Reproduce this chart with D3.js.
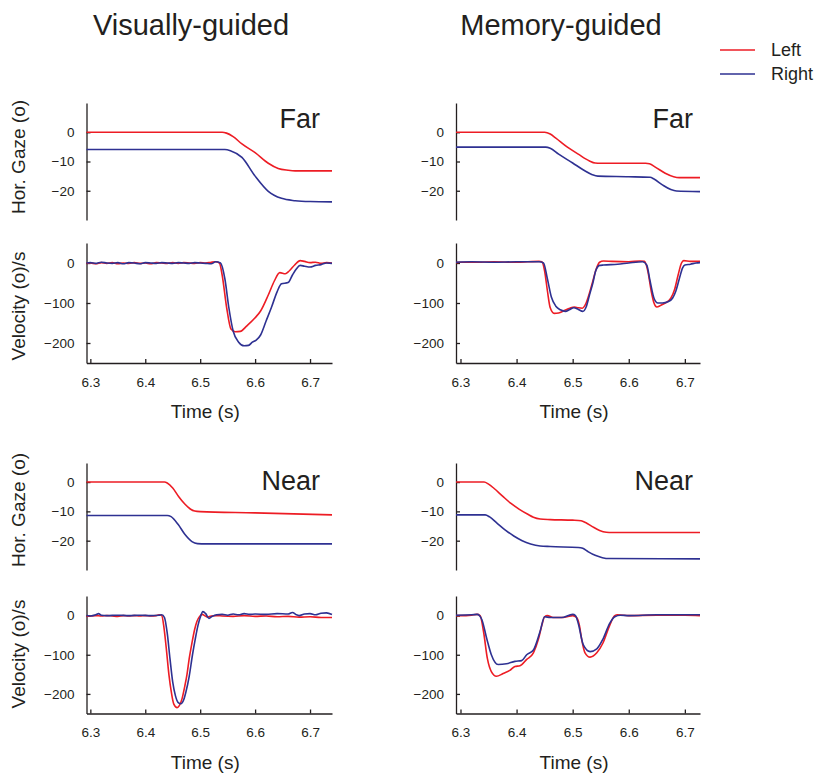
<!DOCTYPE html>
<html>
<head>
<meta charset="utf-8">
<script src="https://cdn.jsdelivr.net/npm/d3@7"></script>
<style>
  body { margin: 0; background: #fff; }
  svg text { font-family: "Liberation Sans", Arial, Helvetica, sans-serif; fill: #231f20; }
  .axis path, .axis line { stroke: #231f20; stroke-width: 1.3; }
  .axis text { font-size: 13.5px; }
</style>
</head>
<body>
<script>
// DATA: [time (s), value] pairs
const COLUMN_TITLES = ['Visually-guided', 'Memory-guided'];
const ROW_LABELS = ['Far', 'Near'];
const SERIES_NAMES = ['Left', 'Right'];
const TIME_TICKS = [6.3, 6.4, 6.5, 6.6, 6.7];
const GAZE_TICKS = [0, -10, -20];
const VEL_TICKS = [0, -100, -200];

// visually-guided, far
const visFarGazeLeft = [[6.293,0],[6.54,0],[6.548,-0.3],[6.56,-1.5],[6.576,-4],[6.6,-7],[6.624,-10.6],[6.642,-12.4],[6.66,-13],[6.673,-13.2],[6.74,-13.2]];
const visFarGazeRight = [[6.293,-5.9],[6.545,-5.9],[6.555,-6.3],[6.576,-8.6],[6.6,-15],[6.624,-20.2],[6.648,-22.6],[6.673,-23.4],[6.7,-23.7],[6.74,-23.8]];
const visFarVelLeft = [[6.293,-1],[6.3,0],[6.31,-2],[6.32,1],[6.33,-1],[6.34,1],[6.35,-2],[6.36,0],[6.37,-1],[6.38,1],[6.39,-1],[6.4,0],[6.41,-2],[6.42,1],[6.43,0],[6.44,-1],[6.45,1],[6.46,-1],[6.47,1],[6.48,0],[6.49,-1],[6.5,1],[6.51,0],[6.52,2],[6.528,3],[6.535,0],[6.54,-30],[6.548,-110],[6.556,-165],[6.564,-172],[6.573,-171],[6.585,-157],[6.6,-137],[6.61,-120],[6.624,-80],[6.635,-45],[6.645,-24],[6.655,-27],[6.662,-20],[6.672,-5],[6.682,6],[6.69,4],[6.7,1],[6.71,2],[6.72,-1],[6.73,1],[6.74,0]];
const visFarVelRight = [[6.293,0],[6.3,1],[6.31,-1],[6.32,2],[6.33,0],[6.34,-1],[6.35,1],[6.36,-2],[6.37,1],[6.38,0],[6.39,-2],[6.4,1],[6.41,0],[6.42,-1],[6.43,1],[6.44,0],[6.45,-1],[6.46,1],[6.47,0],[6.48,-1],[6.49,1],[6.5,0],[6.51,-1],[6.52,-2],[6.528,3],[6.537,0],[6.545,-40],[6.552,-110],[6.56,-170],[6.57,-198],[6.58,-207],[6.588,-206],[6.595,-198],[6.602,-193],[6.61,-180],[6.62,-145],[6.63,-110],[6.64,-72],[6.648,-52],[6.66,-49],[6.668,-30],[6.675,-15],[6.682,-6],[6.69,-8],[6.7,-10],[6.71,-6],[6.72,-4],[6.73,0],[6.74,-1]];

// memory-guided, far
const memFarGazeLeft = [[6.292,0],[6.45,0],[6.46,-0.6],[6.47,-2],[6.49,-5],[6.51,-7.5],[6.53,-9.8],[6.54,-10.5],[6.55,-10.6],[6.63,-10.6],[6.637,-10.8],[6.648,-12],[6.665,-14],[6.68,-15.2],[6.69,-15.5],[6.727,-15.5]];
const memFarGazeRight = [[6.292,-5.1],[6.452,-5.1],[6.46,-5.5],[6.475,-7.5],[6.5,-10.5],[6.52,-13],[6.535,-14.5],[6.545,-15],[6.6,-15.2],[6.638,-15.4],[6.645,-16],[6.66,-18],[6.675,-19.6],[6.685,-20.1],[6.727,-20.3]];
const memFarVelLeft = [[6.292,1],[6.3,2],[6.33,2],[6.36,3],[6.39,2],[6.42,3],[6.44,4],[6.445,3],[6.45,-20],[6.455,-70],[6.46,-112],[6.467,-126],[6.475,-125],[6.485,-119],[6.495,-113],[6.503,-110],[6.51,-112],[6.517,-113],[6.524,-100],[6.53,-75],[6.536,-45],[6.542,-15],[6.548,2],[6.555,5],[6.57,4],[6.6,3],[6.62,5],[6.628,4],[6.634,-20],[6.64,-70],[6.645,-100],[6.65,-110],[6.657,-106],[6.665,-100],[6.675,-88],[6.682,-65],[6.688,-30],[6.694,0],[6.698,6],[6.71,4],[6.72,4],[6.727,4]];
const memFarVelRight = [[6.292,2],[6.32,3],[6.36,2],[6.4,3],[6.44,3],[6.448,0],[6.455,-40],[6.462,-85],[6.47,-108],[6.478,-117],[6.487,-121],[6.495,-116],[6.502,-112],[6.51,-116],[6.518,-121],[6.524,-110],[6.53,-80],[6.536,-50],[6.541,-20],[6.548,-6],[6.555,-5],[6.58,-3],[6.6,0],[6.625,3],[6.632,-5],[6.638,-45],[6.645,-88],[6.652,-100],[6.66,-100],[6.67,-97],[6.678,-88],[6.684,-70],[6.69,-40],[6.696,-12],[6.7,-5],[6.71,-3],[6.72,0],[6.727,1]];

// visually-guided, near
const visNearGazeLeft = [[6.293,0],[6.435,0],[6.44,-0.3],[6.45,-2],[6.461,-5],[6.472,-7.5],[6.482,-9.2],[6.49,-9.9],[6.5,-10.1],[6.6,-10.5],[6.74,-11.2]];
const visNearGazeRight = [[6.293,-11.4],[6.44,-11.4],[6.447,-11.8],[6.46,-14.5],[6.472,-17.8],[6.485,-20.3],[6.495,-21],[6.51,-21.1],[6.74,-21.1]];
const visNearVelLeft = [[6.293,-2],[6.3,-1],[6.31,0],[6.32,-1],[6.33,0],[6.34,-1],[6.35,-2],[6.36,0],[6.37,-1],[6.38,0],[6.39,-1],[6.4,0],[6.41,-1],[6.42,0],[6.425,2],[6.43,0],[6.434,-30],[6.438,-80],[6.443,-150],[6.448,-200],[6.452,-226],[6.458,-235],[6.462,-230],[6.467,-212],[6.472,-180],[6.476,-150],[6.48,-110],[6.485,-70],[6.49,-35],[6.494,-15],[6.499,-2],[6.504,3],[6.508,0],[6.513,-4],[6.52,-1],[6.53,0],[6.54,-1],[6.56,-2],[6.58,0],[6.6,-2],[6.62,-1],[6.64,-3],[6.66,-2],[6.68,-4],[6.7,-3],[6.72,-5],[6.74,-5]];
const visNearVelRight = [[6.293,0],[6.3,-1],[6.31,2],[6.315,5],[6.32,1],[6.33,0],[6.35,1],[6.37,0],[6.39,1],[6.41,0],[6.425,1],[6.43,2],[6.435,-5],[6.44,-45],[6.445,-110],[6.45,-170],[6.455,-205],[6.46,-222],[6.465,-225],[6.47,-215],[6.474,-195],[6.48,-155],[6.486,-100],[6.491,-60],[6.496,-25],[6.5,-5],[6.505,10],[6.51,5],[6.516,-7],[6.522,-2],[6.53,2],[6.54,3],[6.55,1],[6.56,4],[6.57,2],[6.58,5],[6.59,3],[6.6,4],[6.62,3],[6.64,5],[6.66,4],[6.668,8],[6.675,2],[6.68,0],[6.69,4],[6.7,5],[6.71,2],[6.72,6],[6.73,7],[6.74,3]];

// memory-guided, near
const memNearGazeLeft = [[6.292,0],[6.342,0],[6.35,-0.7],[6.36,-2.2],[6.375,-4.8],[6.39,-7.3],[6.405,-9.3],[6.42,-11],[6.43,-12],[6.442,-12.6],[6.46,-12.8],[6.5,-13],[6.515,-13.2],[6.523,-13.8],[6.535,-15.2],[6.548,-16.5],[6.56,-17.1],[6.57,-17.2],[6.727,-17.2]];
const memNearGazeRight = [[6.292,-11.2],[6.344,-11.2],[6.352,-11.9],[6.365,-14],[6.38,-16.4],[6.395,-18.4],[6.41,-20],[6.425,-21.1],[6.442,-21.8],[6.46,-22],[6.51,-22.3],[6.518,-22.6],[6.528,-23.8],[6.54,-25],[6.553,-25.8],[6.565,-26.1],[6.727,-26.2]];
const memNearVelLeft = [[6.292,0],[6.31,0],[6.32,1],[6.329,3],[6.335,0],[6.341,-40],[6.348,-110],[6.355,-143],[6.364,-155],[6.376,-148],[6.388,-140],[6.397,-130],[6.406,-128],[6.418,-112],[6.43,-95],[6.439,-60],[6.445,-25],[6.45,-3],[6.455,0],[6.465,-5],[6.48,-5],[6.49,-3],[6.5,0],[6.507,-5],[6.512,-25],[6.516,-60],[6.522,-95],[6.531,-106],[6.543,-95],[6.554,-70],[6.566,-25],[6.575,0],[6.58,2],[6.6,0],[6.65,1],[6.7,1],[6.727,0]];
const memNearVelRight = [[6.292,1],[6.32,2],[6.33,3],[6.338,-10],[6.347,-60],[6.355,-100],[6.367,-125],[6.382,-123],[6.397,-117],[6.409,-115],[6.418,-100],[6.43,-88],[6.442,-40],[6.45,-3],[6.46,-5],[6.48,-5],[6.5,3],[6.505,0],[6.51,-20],[6.519,-75],[6.531,-92],[6.543,-85],[6.554,-60],[6.566,-20],[6.575,-3],[6.585,1],[6.6,0],[6.65,2],[6.7,2],[6.727,2]];

// LAYOUT
const WIDTH = 821, HEIGHT = 776;
const COLORS = ['#ed1c24', '#2e3192'];
const INK = '#231f20';
const COLS = [
  {x0: 86.5, x1: 332, domain: [6.293, 6.74], labelX: 320, titleX: 191},
  {x0: 456, x1: 700, domain: [6.292, 6.727], labelX: 693, titleX: 561}
];
const ROWS = [
  {gaze: [103, 220, 10], vel: [243, 363], labelY: 128, gazeLabelY: 157, velLabelY: 306},
  {gaze: [463, 570, 6.5], vel: [596, 713.5], labelY: 490, gazeLabelY: 510, velLabelY: 654}
];

const PANELS = [
  {col: 0, row: 0, gaze: [visFarGazeLeft, visFarGazeRight], vel: [visFarVelLeft, visFarVelRight]},
  {col: 1, row: 0, gaze: [memFarGazeLeft, memFarGazeRight], vel: [memFarVelLeft, memFarVelRight]},
  {col: 0, row: 1, gaze: [visNearGazeLeft, visNearGazeRight], vel: [visNearVelLeft, visNearVelRight]},
  {col: 1, row: 1, gaze: [memNearGazeLeft, memNearGazeRight], vel: [memNearVelLeft, memNearVelRight]}
];

const svg = d3.select('body').append('svg')
  .attr('width', WIDTH)
  .attr('height', HEIGHT);

// column titles
COLUMN_TITLES.forEach((t, i) => {
  svg.append('text')
    .attr('x', COLS[i].titleX)
    .attr('y', 35)
    .attr('text-anchor', 'middle')
    .style('font-size', '29px')
    .text(t);
});

// legend
SERIES_NAMES.forEach((name, i) => {
  const y = 50 + i * 24;
  svg.append('line')
    .attr('x1', 720).attr('x2', 755)
    .attr('y1', y).attr('y2', y)
    .attr('stroke', COLORS[i])
    .attr('stroke-width', 1.6);
  svg.append('text')
    .attr('x', 771)
    .attr('y', y + 6)
    .style('font-size', '18px')
    .text(name);
});

function drawLines(g, series, x, y) {
  const line = d3.line()
    .x(d => x(d[0]))
    .y(d => y(d[1]))
    .curve(d3.curveMonotoneX);
  series.forEach((s, i) => {
    g.append('path')
      .datum(s)
      .attr('fill', 'none')
      .attr('stroke', COLORS[i])
      .attr('stroke-width', 1.6)
      .attr('stroke-linejoin', 'round')
      .attr('d', line);
  });
}

PANELS.forEach(p => {
  const c = COLS[p.col], r = ROWS[p.row];
  const x = d3.scaleLinear().domain(c.domain).range([c.x0, c.x1]);

  // GAZE
  const yG = d3.scaleLinear().domain([-30, r.gaze[2]]).range([r.gaze[1], r.gaze[0]]);
  svg.append('g')
    .attr('class', 'axis')
    .attr('transform', 'translate(' + c.x0 + ',0)')
    .call(d3.axisLeft(yG).tickValues(GAZE_TICKS).tickSizeInner(-4).tickSizeOuter(0).tickPadding(12));
  drawLines(svg.append('g'), p.gaze, x, yG);

  svg.append('text')
    .attr('x', c.labelX)
    .attr('y', r.labelY)
    .attr('text-anchor', 'end')
    .style('font-size', '27px')
    .text(ROW_LABELS[p.row]);

  // VELOCITY
  const yV = d3.scaleLinear().domain([-250, 50]).range([r.vel[1], r.vel[0]]);
  svg.append('g')
    .attr('class', 'axis')
    .attr('transform', 'translate(' + c.x0 + ',0)')
    .call(d3.axisLeft(yV).tickValues(VEL_TICKS).tickSizeInner(-4).tickSizeOuter(0).tickPadding(12));
  svg.append('g')
    .attr('class', 'axis')
    .attr('transform', 'translate(0,' + r.vel[1] + ')')
    .call(d3.axisBottom(x).tickValues(TIME_TICKS).tickFormat(d3.format('.1f')).tickSizeInner(-4).tickSizeOuter(0).tickPadding(14));
  drawLines(svg.append('g'), p.vel, x, yV);

  svg.append('text')
    .attr('x', (c.x0 + c.x1) / 2 - 4)
    .attr('y', r.vel[1] + 55)
    .attr('text-anchor', 'middle')
    .style('font-size', '19px')
    .text('Time (s)');

  // y labels only on the left column
  if (p.col === 0) {
    svg.append('text')
      .attr('transform', 'translate(25,' + r.gazeLabelY + ') rotate(-90)')
      .attr('text-anchor', 'middle')
      .style('font-size', '19px')
      .text('Hor. Gaze (o)');
    svg.append('text')
      .attr('transform', 'translate(25,' + r.velLabelY + ') rotate(-90)')
      .attr('text-anchor', 'middle')
      .style('font-size', '19px')
      .text('Velocity (o)/s');
  }
});
</script>
</body>
</html>
